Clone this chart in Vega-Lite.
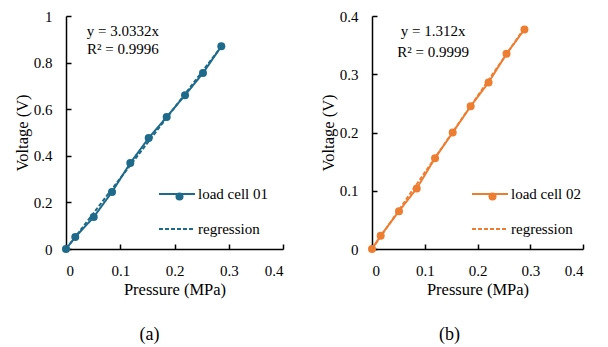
{
  "$schema": "https://vega.github.io/schema/vega-lite/v6.json",
  "background": "white",
  "padding": {"left": 14, "top": 9, "right": 5, "bottom": 0},
  "bounds": "flush",
  "spacing": 89,
  "resolve": {"legend": {"strokeDash": "independent", "shape": "independent"}, "scale": {"strokeDash": "independent", "shape": "independent"}},
  "config": {"view": {"stroke": null}},
  "datasets": {
    "p1": [
      {"pressure": 0, "voltage": 0, "series": "load cell 01"},
      {"pressure": 0.0171, "voltage": 0.0515, "series": "load cell 01"},
      {"pressure": 0.0511, "voltage": 0.137, "series": "load cell 01"},
      {"pressure": 0.0848, "voltage": 0.245, "series": "load cell 01"},
      {"pressure": 0.1185, "voltage": 0.369, "series": "load cell 01"},
      {"pressure": 0.1524, "voltage": 0.476, "series": "load cell 01"},
      {"pressure": 0.1856, "voltage": 0.567, "series": "load cell 01"},
      {"pressure": 0.2194, "voltage": 0.660, "series": "load cell 01"},
      {"pressure": 0.2525, "voltage": 0.755, "series": "load cell 01"},
      {"pressure": 0.2863, "voltage": 0.870, "series": "load cell 01"}
    ],
    "r1": [
      {"pressure": 0, "voltage": 0, "series": "regression"},
      {"pressure": 0.2863, "voltage": 0.8684, "series": "regression"}
    ],
    "t1": [
      {"pressure": 0.105, "voltage": 0.935, "label": "y = 3.0332x"},
      {"pressure": 0.105, "voltage": 0.858, "label": "R² = 0.9996"}
    ],
    "p2": [
      {"pressure": 0, "voltage": 0, "series": "load cell 02"},
      {"pressure": 0.0165, "voltage": 0.0228, "series": "load cell 02"},
      {"pressure": 0.0512, "voltage": 0.065, "series": "load cell 02"},
      {"pressure": 0.0848, "voltage": 0.104, "series": "load cell 02"},
      {"pressure": 0.1195, "voltage": 0.156, "series": "load cell 02"},
      {"pressure": 0.153, "voltage": 0.200, "series": "load cell 02"},
      {"pressure": 0.187, "voltage": 0.245, "series": "load cell 02"},
      {"pressure": 0.221, "voltage": 0.286, "series": "load cell 02"},
      {"pressure": 0.255, "voltage": 0.335, "series": "load cell 02"},
      {"pressure": 0.289, "voltage": 0.377, "series": "load cell 02"}
    ],
    "r2": [
      {"pressure": 0, "voltage": 0, "series": "regression"},
      {"pressure": 0.289, "voltage": 0.3792, "series": "regression"}
    ],
    "t2": [
      {"pressure": 0.116, "voltage": 0.374, "label": "y = 1.312x"},
      {"pressure": 0.116, "voltage": 0.339, "label": "R² = 0.9999"}
    ]
  },
  "hconcat": [
    {
      "width": 217, "height": 233,
      "title": {"text": "(a)", "orient": "bottom", "fontSize": 18, "fontWeight": "normal", "font": "Liberation Serif", "color": "black", "dx": -25, "offset": 28},
      "encoding": {
        "x": {"field": "pressure", "type": "quantitative", "title": "Pressure (MPa)", "scale": {"domain": [0, 0.4], "nice": false},
          "axis": {"values": [0, 0.1, 0.2, 0.3, 0.4], "format": "~g", "grid": false, "domainColor": "black", "domainWidth": 1.5, "tickColor": "black", "tickWidth": 1.5, "tickSize": -5, "labelPadding": 19, "labelFont": "Liberation Serif", "labelFontSize": 15, "labelColor": "black", "titleFont": "Liberation Serif", "titleFontSize": 16.5, "titleFontWeight": "normal", "titleColor": "black", "titlePadding": 3}},
        "y": {"field": "voltage", "type": "quantitative", "title": "Voltage (V)", "scale": {"domain": [0, 1], "nice": false},
          "axis": {"values": [0, 0.2, 0.4, 0.6, 0.8, 1], "format": "~g", "grid": false, "domainColor": "black", "domainWidth": 1.5, "tickColor": "black", "tickWidth": 1.5, "tickSize": -5, "labelPadding": 19, "labelFont": "Liberation Serif", "labelFontSize": 15, "labelColor": "black", "titleFont": "Liberation Serif", "titleFontSize": 16.5, "titleFontWeight": "normal", "titleColor": "black", "titlePadding": 3}}
      },
      "layer": [
        {
          "data": {"name": "r1"},
          "mark": {"type": "line", "color": "#1d6a8a", "strokeWidth": 2},
          "encoding": {"strokeDash": {"field": "series", "type": "nominal", "scale": {"domain": ["load cell 01", "regression"], "range": [[1, 0], [4, 2]]},
            "legend": {"title": null, "orient": "none", "legendX": 92, "legendY": 159, "padding": 0, "symbolType": "stroke", "symbolSize": 1296, "symbolStrokeWidth": 2, "symbolStrokeColor": "#1d6a8a", "labelOffset": 2, "rowPadding": 8, "labelFont": "Liberation Serif", "labelFontSize": 15, "labelColor": "black"}}}
        },
        {
          "data": {"name": "p1"},
          "mark": {"type": "line", "color": "#1d6a8a", "strokeWidth": 2},
          "encoding": {"strokeDash": {"field": "series", "type": "nominal"}}
        },
        {
          "data": {"name": "p1"},
          "mark": {"type": "point", "filled": true, "color": "#1d6a8a", "size": 64, "opacity": 1},
          "encoding": {"shape": {"field": "series", "type": "nominal", "scale": {"domain": ["load cell 01"], "range": ["circle"]},
            "legend": {"title": null, "orient": "none", "legendX": 106, "legendY": 173, "padding": 0, "symbolSize": 64, "symbolFillColor": "#1d6a8a", "symbolStrokeColor": "#1d6a8a", "symbolOpacity": 1, "labelOpacity": 0, "labelFont": "Liberation Serif", "labelFontSize": 15}}}
        },
        {
          "data": {"name": "t1"},
          "mark": {"type": "text", "fontSize": 15, "font": "Liberation Serif", "color": "black"},
          "encoding": {"text": {"field": "label"}}
        }
      ]
    },
    {
      "width": 211, "height": 233,
      "title": {"text": "(b)", "orient": "bottom", "fontSize": 18, "fontWeight": "normal", "font": "Liberation Serif", "color": "black", "dx": -28, "offset": 28},
      "encoding": {
        "x": {"field": "pressure", "type": "quantitative", "title": "Pressure (MPa)", "scale": {"domain": [0, 0.4], "nice": false},
          "axis": {"values": [0, 0.1, 0.2, 0.3, 0.4], "format": "~g", "grid": false, "domainColor": "black", "domainWidth": 1.5, "tickColor": "black", "tickWidth": 1.5, "tickSize": -5, "labelPadding": 19, "labelFont": "Liberation Serif", "labelFontSize": 15, "labelColor": "black", "titleFont": "Liberation Serif", "titleFontSize": 16.5, "titleFontWeight": "normal", "titleColor": "black", "titlePadding": 3}},
        "y": {"field": "voltage", "type": "quantitative", "title": "Voltage (V)", "scale": {"domain": [0, 0.4], "nice": false},
          "axis": {"values": [0, 0.1, 0.2, 0.3, 0.4], "format": "~g", "grid": false, "domainColor": "black", "domainWidth": 1.5, "tickColor": "black", "tickWidth": 1.5, "tickSize": -5, "labelPadding": 19, "labelFont": "Liberation Serif", "labelFontSize": 15, "labelColor": "black", "titleFont": "Liberation Serif", "titleFontSize": 16.5, "titleFontWeight": "normal", "titleColor": "black", "titlePadding": 3}}
      },
      "layer": [
        {
          "data": {"name": "r2"},
          "mark": {"type": "line", "color": "#ed7d31", "strokeWidth": 2},
          "encoding": {"strokeDash": {"field": "series", "type": "nominal", "scale": {"domain": ["load cell 02", "regression"], "range": [[1, 0], [4, 2]]},
            "legend": {"title": null, "orient": "none", "legendX": 99, "legendY": 159, "padding": 0, "symbolType": "stroke", "symbolSize": 1296, "symbolStrokeWidth": 2, "symbolStrokeColor": "#ed7d31", "labelOffset": 2, "rowPadding": 8, "labelFont": "Liberation Serif", "labelFontSize": 15, "labelColor": "black"}}}
        },
        {
          "data": {"name": "p2"},
          "mark": {"type": "line", "color": "#ed7d31", "strokeWidth": 2},
          "encoding": {"strokeDash": {"field": "series", "type": "nominal"}}
        },
        {
          "data": {"name": "p2"},
          "mark": {"type": "point", "filled": true, "color": "#ed7d31", "size": 64, "opacity": 1},
          "encoding": {"shape": {"field": "series", "type": "nominal", "scale": {"domain": ["load cell 02"], "range": ["circle"]},
            "legend": {"title": null, "orient": "none", "legendX": 113, "legendY": 173, "padding": 0, "symbolSize": 64, "symbolFillColor": "#ed7d31", "symbolStrokeColor": "#ed7d31", "symbolOpacity": 1, "labelOpacity": 0, "labelFont": "Liberation Serif", "labelFontSize": 15}}}
        },
        {
          "data": {"name": "t2"},
          "mark": {"type": "text", "fontSize": 15, "font": "Liberation Serif", "color": "black"},
          "encoding": {"text": {"field": "label"}}
        }
      ]
    }
  ]
}
